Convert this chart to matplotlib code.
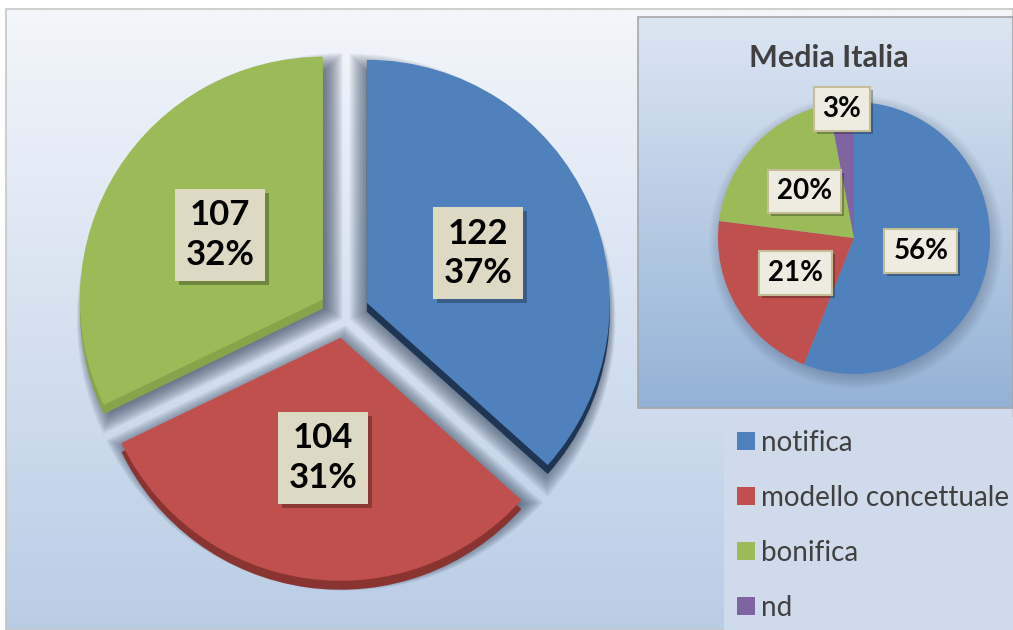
import numpy as np
import matplotlib.pyplot as plt
from matplotlib.colors import LinearSegmentedColormap
from matplotlib.patches import Rectangle

W, H = 1013, 630

categorie = ['notifica', 'modello concettuale', 'bonifica', 'nd']
colori = ['#4f81bd', '#c0504d', '#9bbb59', '#8064a2']
colori_scuri = ['#1f3554', '#8a3432', '#86a44a']

# casi regionali: notifica, modello concettuale, bonifica
casi = [122, 104, 107]
# media Italia (%): notifica, modello concettuale, bonifica, nd
media_italia = [56, 21, 20, 3]

plt.rcParams['font.family'] = ['Lato', 'DejaVu Sans']

fig = plt.figure(figsize=(W / 100, H / 100), dpi=100)
ax = fig.add_axes([0, 0, 1, 1])


def gradiente(extent, top, bottom, z):
    cmap = LinearSegmentedColormap.from_list('g', [bottom, top])
    grad = np.linspace(0, 1, 256).reshape(-1, 1)
    ax.imshow(grad, extent=extent, origin='lower', cmap=cmap,
              aspect='auto', zorder=z)


# sfondo area grafico
fig.patch.set_facecolor('white')
gradiente([6, W, 0, H - 9], '#f3f6fb', '#b9cde5', 0)
ax.add_patch(Rectangle((6, 0), W - 6, H - 9, fc='none', ec='#c6c6c6', lw=1.2, zorder=1))

# grafico principale (esploso, con spessore)
cx, cy, r = 344, 317, 243
esp = 25
tot = sum(casi)

# ombra morbida
for i in range(14):
    ax.pie(casi, radius=r - 6 + i * 2.2, center=(cx + 2, cy - 8),
           explode=[esp - i * 1.6] * 3, startangle=90, counterclock=False,
           colors=['#2d3b52'] * 3,
           wedgeprops=dict(alpha=0.065, linewidth=0, zorder=2), frame=True)

ax.pie(casi, radius=r, center=(cx, cy - 9), explode=[esp] * 3, startangle=90,
       counterclock=False, colors=colori_scuri,
       wedgeprops=dict(linewidth=0, zorder=3), frame=True)

wedges, _, autotesti = ax.pie(
    casi, radius=r, center=(cx, cy), explode=[esp] * 3, startangle=90,
    counterclock=False, colors=colori[:3],
    autopct=lambda p: '%d\n%d%%' % (round(p * tot / 100), round(p)),
    pctdistance=0.5, wedgeprops=dict(linewidth=0, zorder=4),
    textprops=dict(fontsize=25, fontweight='bold', color='black'), frame=True)

for t in autotesti:
    t.set_zorder(7)
    t.set_linespacing(1.28)
    t.set_bbox(dict(boxstyle='square,pad=0.3', fc='#ddd9c3', ec='none'))

# riquadro "Media Italia"
ix0, ix1, iy0, iy1 = 638, W, H - 408, H - 17
gradiente([ix0, ix1, iy0, iy1], '#dce6f2', '#94b2d6', 8)
ax.add_patch(Rectangle((ix0, iy0), ix1 - ix0, iy1 - iy0, fc='none',
                       ec='#a6a6a6', lw=1.2, zorder=9))
ax.text(829, H - 58, 'Media Italia', ha='center', va='center', fontsize=22,
        fontweight='bold', color='#404040', zorder=10)

icx, icy, ir = 854, H - 238, 136
for i in range(8):
    ax.pie(media_italia, radius=ir - 2 + i * 1.8, center=(icx + 2, icy - 4),
           startangle=90, counterclock=False, colors=['#2d3b52'] * 4,
           wedgeprops=dict(alpha=0.035, linewidth=0, zorder=10), frame=True)

w_it, _, auto_it = ax.pie(
    media_italia, radius=ir, center=(icx, icy), startangle=90,
    counterclock=False, colors=colori, autopct='%.0f%%', pctdistance=0.5,
    wedgeprops=dict(linewidth=0, zorder=11),
    textprops=dict(fontsize=20, fontweight='bold', color='black'), frame=True)

distanze = [0.5, 0.5, 0.5, 0.95]
for w, t, d in zip(w_it, auto_it, distanze):
    m = np.deg2rad((w.theta1 + w.theta2) / 2)
    t.set_position((w.center[0] + d * ir * np.cos(m), w.center[1] + d * ir * np.sin(m)))
    t.set_zorder(14)
    t.set_bbox(dict(boxstyle='square,pad=0.32', fc='#eeece1', ec='#c4bd97', lw=1.5))

# legenda
leg = ax.legend(w_it, categorie, loc='upper left',
                bbox_to_anchor=(724 / W, 0, (W - 724) / W, (H - 417) / H),
                bbox_transform=fig.transFigure, mode='expand', fontsize=20,
                frameon=True, fancybox=False, facecolor='#cfdbea',
                edgecolor='none', framealpha=1, handlelength=0.64,
                handleheight=0.64, handletextpad=0.22, labelspacing=1.04,
                borderpad=0.47, borderaxespad=0)
leg.set_zorder(15)
for t in leg.get_texts():
    t.set_color('#404040')

ax.set_xlim(0, W)
ax.set_ylim(0, H)
ax.set_aspect('auto')
ax.axis('off')

# ombre dei riquadri delle etichette (assi in pixel)
fig.canvas.draw()
rend = fig.canvas.get_renderer()
for t, d in [(t, 4) for t in autotesti] + [(t, 3) for t in auto_it]:
    bb = t.get_bbox_patch().get_window_extent(rend)
    ax.add_patch(Rectangle((bb.x0 + d, bb.y0 - d), bb.width, bb.height,
                           fc='black', alpha=0.28, lw=0, zorder=t.get_zorder() - 0.5))

fig.savefig('out.png', dpi=100, facecolor='white')
